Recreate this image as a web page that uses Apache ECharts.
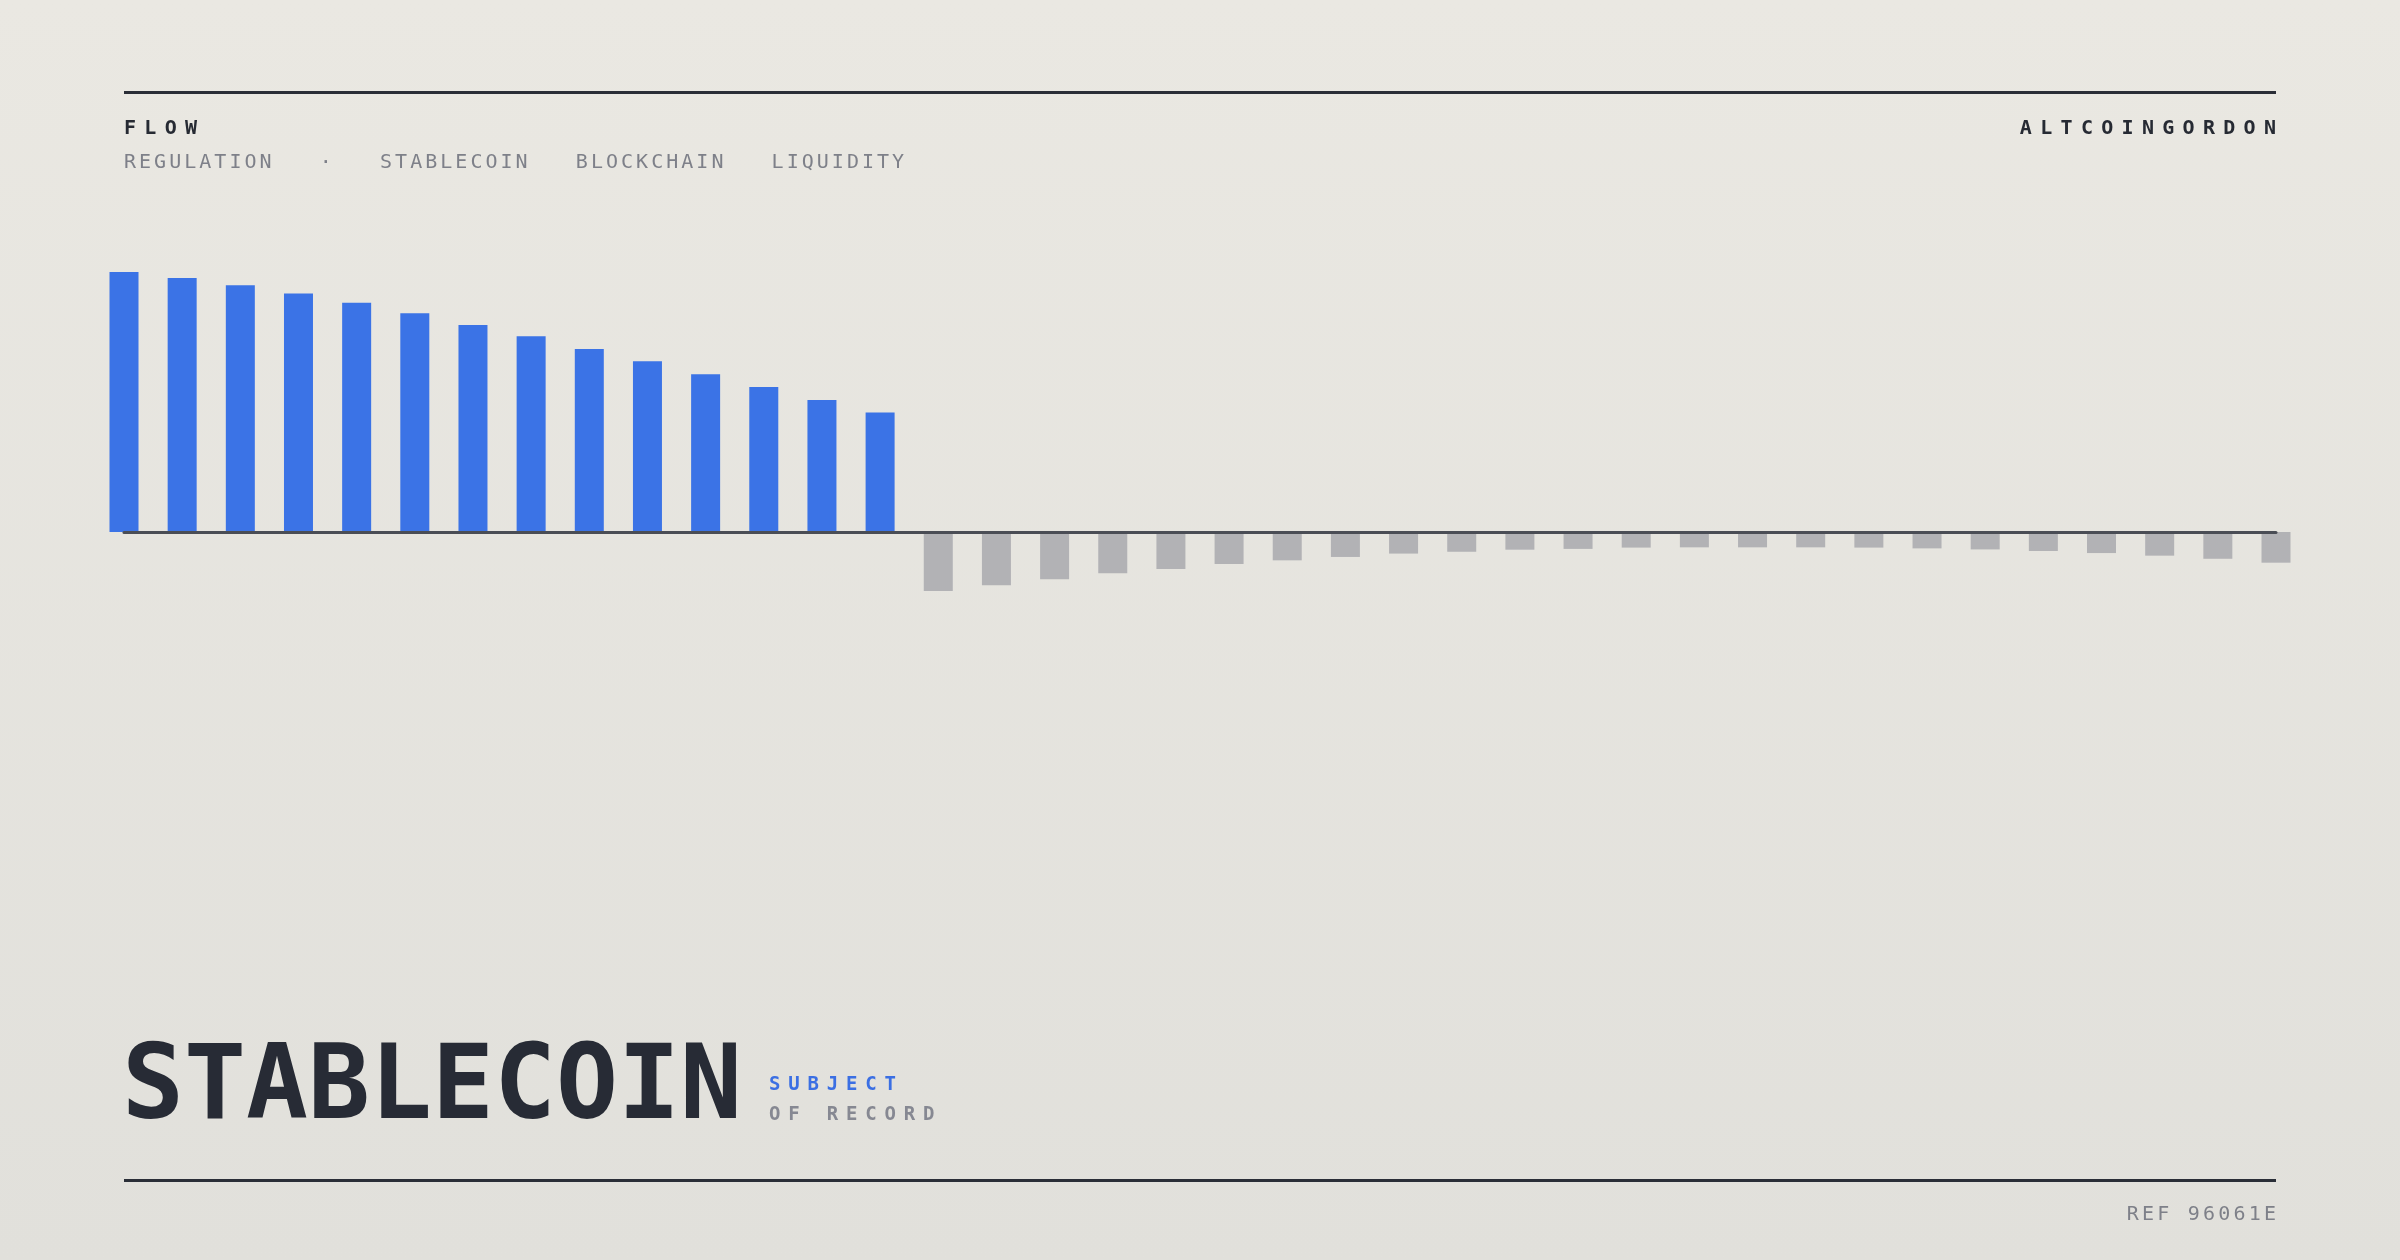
<!DOCTYPE html>
<html>
<head>
<meta charset="utf-8">
<script src="https://cdn.jsdelivr.net/npm/echarts@6/dist/echarts.min.js"></script>
<style>
  html, body { margin: 0; padding: 0; }
  body {
    width: 2400px; height: 1260px; position: relative; overflow: hidden;
    background: linear-gradient(to bottom, #eae8e2 0%, #e1e0db 100%);
    font-family: "DejaVu Sans Mono", "Liberation Mono", monospace;
  }
  #chart { position: absolute; left: 0; top: 0; width: 2400px; height: 1260px; }
  .t { position: absolute; white-space: pre; line-height: 1; z-index: 2; }
  .rule { position: absolute; left: 124px; width: 2152px; height: 3px; background: #2a2e37; z-index: 2; }
</style>
</head>
<body>
<div id="chart"></div>
<div class="rule" style="top:91px"></div>
<div class="rule" style="top:1179px"></div>
<div id="kicker" class="t" style="left:124px; top:117px; font-size:20px; font-weight:bold; letter-spacing:8.3px; color:#262a33;"></div>
<div id="brand" class="t" style="right:124px; top:117px; font-size:20px; font-weight:bold; letter-spacing:8.3px; margin-right:-8.3px; color:#262a33;"></div>
<div id="tags" class="t" style="left:124px; top:151px; font-size:20px; letter-spacing:3.02px; color:#7e8089;"></div>
<div id="title" class="t" style="left:122px; top:1031px; font-size:103px; font-weight:bold; letter-spacing:0px; color:#272b35;"></div>
<div id="sub1" class="t" style="left:769px; top:1074px; font-size:19px; font-weight:bold; letter-spacing:7.8px; color:#3b6fe3;"></div>
<div id="sub2" class="t" style="left:769px; top:1104px; font-size:19px; font-weight:bold; letter-spacing:7.8px; color:#868892;"></div>
<div id="ref" class="t" style="right:124px; top:1203px; font-size:20px; letter-spacing:3.2px; margin-right:-3.2px; color:#7e8089;"></div>
<script>
// ---- text ----
const kickerText = 'FLOW';
const brandText = 'ALTCOINGORDON';
const tagWords = ['REGULATION', '·', 'STABLECOIN', 'BLOCKCHAIN', 'LIQUIDITY'];
const titleText = 'STABLECOIN';
const subTextTop = 'SUBJECT';
const subTextBottom = 'OF RECORD';
const refText = 'REF 96061E';

// ---- data ----
const categories = [
  'P01','P02','P03','P04','P05','P06','P07','P08','P09','P10',
  'P11','P12','P13','P14','P15','P16','P17','P18','P19','P20',
  'P21','P22','P23','P24','P25','P26','P27','P28','P29','P30',
  'P31','P32','P33','P34','P35','P36','P37','P38'
];
const inflow = [
  100, 97.7, 94.9, 91.7, 88.2, 84.1, 79.6, 75.3, 70.4, 65.7,
  60.7, 55.8, 50.8, 46.0, null, null, null, null, null, null,
  null, null, null, null, null, null, null, null, null, null,
  null, null, null, null, null, null, null, null
];
const outflow = [
  null, null, null, null, null, null, null, null, null, null,
  null, null, null, null, -22.7, -20.5, -18.2, -15.9, -14.2, -12.3,
  -10.9, -9.6, -8.3, -7.6, -6.8, -6.5, -6.0, -5.9, -5.9, -5.9,
  -6.0, -6.3, -6.7, -7.3, -8.1, -9.1, -10.3, -11.8
];
const yMin = -60;
const yMax = 100;

document.getElementById('kicker').textContent = kickerText;
document.getElementById('brand').textContent = brandText;
document.getElementById('tags').textContent = tagWords.join('   ');
document.getElementById('title').textContent = titleText;
document.getElementById('sub1').textContent = subTextTop;
document.getElementById('sub2').textContent = subTextBottom;
document.getElementById('ref').textContent = refText;

const chart = echarts.init(document.getElementById('chart'), null, { renderer: 'canvas' });
chart.setOption({
  animation: false,
  backgroundColor: 'transparent',
  grid: { left: 124, right: 124, top: 272, bottom: 572, containLabel: false },
  xAxis: {
    type: 'category',
    data: categories,
    boundaryGap: false,
    z: 10,
    axisLine: { show: true, onZero: true, lineStyle: { color: '#4a4d55', width: 3 } },
    axisTick: { show: false },
    axisLabel: { show: false },
    splitLine: { show: false }
  },
  yAxis: {
    type: 'value',
    min: yMin,
    max: yMax,
    show: false,
    splitLine: { show: false }
  },
  series: [
    {
      name: 'Inflow',
      type: 'bar',
      stack: 'flow',
      data: inflow,
      barWidth: 29,
      itemStyle: { color: '#3b73e6' }
    },
    {
      name: 'Outflow',
      type: 'bar',
      stack: 'flow',
      data: outflow,
      barWidth: 29,
      itemStyle: { color: '#b2b2b5' }
    }
  ]
});
</script>
</body>
</html>
